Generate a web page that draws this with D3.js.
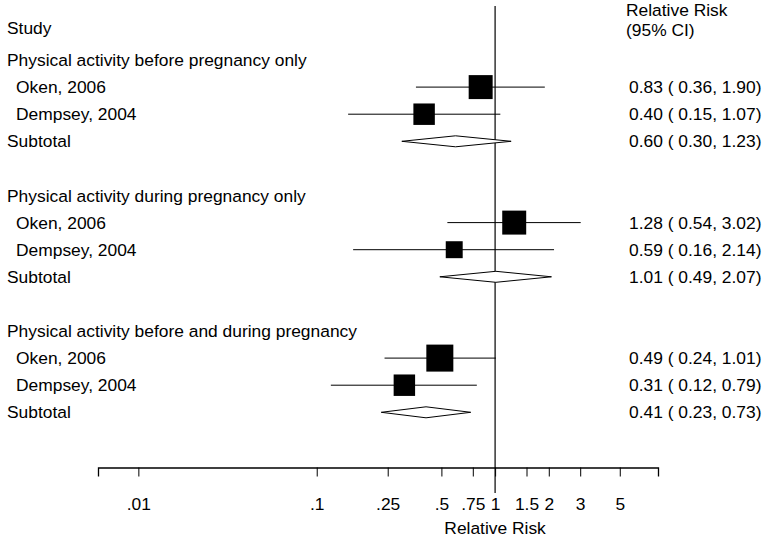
<!DOCTYPE html>
<html>
<head>
<meta charset="utf-8">
<script src="https://cdn.jsdelivr.net/npm/d3@7"></script>
<style>
  html, body { margin: 0; padding: 0; background: #fff; }
  svg { display: block; font-family: "Liberation Sans", Arial, sans-serif; }
</style>
</head>
<body>
<svg id="chart" width="767" height="540"></svg>
<script>
// ---- Data ----
const groups = [
  "Physical activity before pregnancy only",
  "Physical activity during pregnancy only",
  "Physical activity before and during pregnancy"
];
const studies = ["Oken, 2006", "Dempsey, 2004"];
const studyRR   = [[0.83, 0.40], [1.28, 0.59], [0.49, 0.31]];
const studyLo   = [[0.36, 0.15], [0.54, 0.16], [0.24, 0.12]];
const studyHi   = [[1.90, 1.07], [3.02, 2.14], [1.01, 0.79]];
const studyWeight = [[18.6, 14.9], [18.6, 9.3], [23.6, 14.9]];
const subRR = [0.60, 1.01, 0.41];
const subLo = [0.30, 0.49, 0.23];
const subHi = [1.23, 2.07, 0.73];
const tickValues = [0.01, 0.1, 0.25, 0.5, 0.75, 1, 1.5, 2, 3, 5];
const tickLabels = [".01", ".1", ".25", ".5", ".75", "1", "1.5", "2", "3", "5"];

// ---- Layout ----
const svg = d3.select("#chart");
const fs = 17.4;
const x = d3.scaleLog().domain([0.00594, 8.19]).range([98, 658]);
const y = d3.scaleLinear().domain([0, 1]).range([60, 87.1]);
const box = d3.scaleSqrt().domain([0, 23.6]).range([0, 27]);
const fmt = d3.format(".2f");
const ciText = (m, l, h) => `${fmt(m)} ( ${fmt(l)}, ${fmt(h)})`;

// Build rows
const rows = [];
groups.forEach((g, gi) => {
  const base = gi * 5;
  rows.push({type: "header", label: g, idx: base});
  studies.forEach((s, si) => {
    rows.push({type: "study", label: s, idx: base + 1 + si,
      rr: studyRR[gi][si], lo: studyLo[gi][si], hi: studyHi[gi][si], w: studyWeight[gi][si]});
  });
  rows.push({type: "sub", label: "Subtotal", idx: base + 3,
    rr: subRR[gi], lo: subLo[gi], hi: subHi[gi]});
});

// Column headers
svg.append("text").attr("x", 7).attr("y", 34)
  .attr("font-size", fs).text("Study");
const hdr = svg.append("text").attr("font-size", fs);
hdr.append("tspan").attr("x", 626).attr("y", 16).text("Relative Risk");
hdr.append("tspan").attr("x", 626).attr("y", 35.5).text("(95% CI)");

// Null line
svg.append("line").attr("x1", x(1)).attr("x2", x(1)).attr("y1", 6).attr("y2", 493)
  .attr("stroke", "#000").attr("stroke-width", 1.2);

// Axis
const axis = d3.axisBottom(x).tickValues(tickValues)
  .tickFormat((d, i) => tickLabels[i]).tickSizeOuter(0).tickSize(9).tickPadding(21);
const gAxis = svg.append("g").attr("transform", "translate(0,467.5)").call(axis);
gAxis.select(".domain").attr("stroke-width", 1.3);
gAxis.selectAll(".tick line").attr("stroke-width", 1);
gAxis.selectAll(".tick text").attr("font-size", fs).attr("font-family", "Liberation Sans, Arial, sans-serif");
svg.append("text").attr("x", x(1)).attr("y", 528).attr("dy", "0.35em")
  .attr("text-anchor", "middle").attr("font-size", fs).text("Relative Risk");

// Row labels
svg.selectAll("text.row").data(rows).join("text").attr("class", "row")
  .attr("x", d => d.type === "study" ? 16 : 7)
  .attr("y", d => y(d.idx)).attr("dy", "0.35em")
  .attr("font-size", fs).text(d => d.label);

// Right-column estimates
svg.selectAll("text.est").data(rows.filter(d => d.type !== "header")).join("text")
  .attr("class", "est").attr("x", 629).attr("y", d => y(d.idx)).attr("dy", "0.35em")
  .attr("font-size", fs).text(d => ciText(d.rr, d.lo, d.hi));

// CI lines
const st = rows.filter(d => d.type === "study");
svg.selectAll("line.ci").data(st).join("line").attr("class", "ci")
  .attr("x1", d => x(d.lo)).attr("x2", d => x(d.hi))
  .attr("y1", d => y(d.idx)).attr("y2", d => y(d.idx))
  .attr("stroke", "#000").attr("stroke-width", 1);

// Boxes
svg.selectAll("rect.box").data(st).join("rect").attr("class", "box")
  .attr("x", d => x(d.rr) - box(d.w) / 2).attr("y", d => y(d.idx) - box(d.w) / 2)
  .attr("width", d => box(d.w)).attr("height", d => box(d.w)).attr("fill", "#000");

// Diamonds
const sub = rows.filter(d => d.type === "sub");
svg.selectAll("path.dia").data(sub).join("path").attr("class", "dia")
  .attr("d", d => {
    const yy = y(d.idx), h = 5.5;
    return `M${x(d.lo)},${yy}L${x(d.rr)},${yy - h}L${x(d.hi)},${yy}L${x(d.rr)},${yy + h}Z`;
  })
  .attr("fill", "#fff").attr("stroke", "#000").attr("stroke-width", 1);
</script>
</body>
</html>
